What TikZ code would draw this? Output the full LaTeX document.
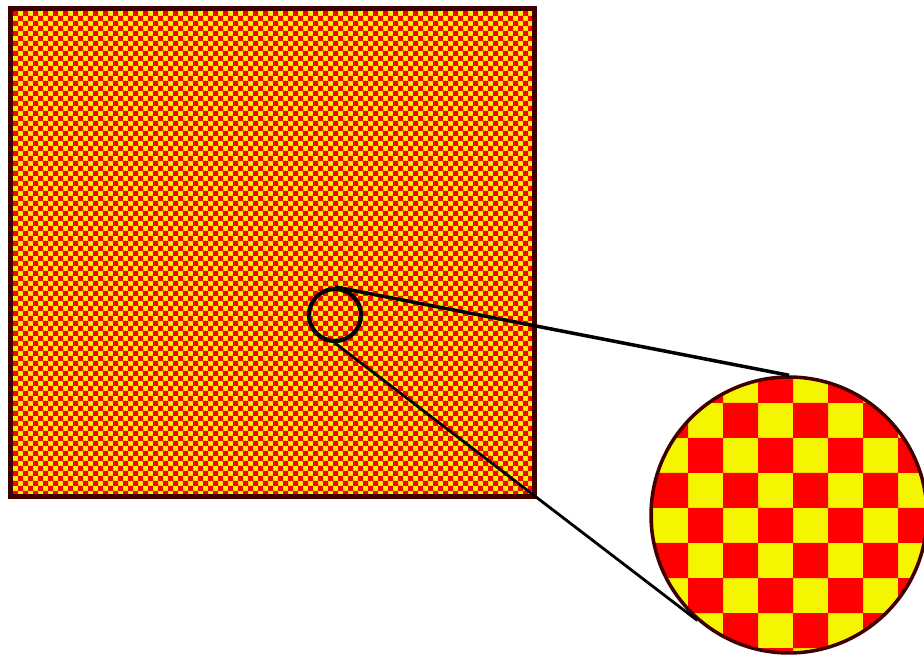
\documentclass[tikz,border=0pt]{standalone}
\usepackage{tikz}
\definecolor{boardred}{RGB}{255,0,0}
\definecolor{boardyellow}{RGB}{245,245,0}
\definecolor{rim}{RGB}{64,0,0}

\begin{document}
\begin{tikzpicture}[x=0.02cm, y=-0.02cm,
    rimline/.style={draw=rim, line width=2pt},
    zoomline/.style={draw=black, line width=2pt}]
    \useasboundingbox (0,0) rectangle (924,655);

    % Fine board
    \begin{scope}
        \clip (13,11) rectangle (532,495);
        \fill[boardyellow] (13,11) rectangle (532,495);
        \foreach \r in {0,...,96} {
            \fill[boardred] \foreach \c in {0,...,52} {
                ({13+10*\c+5*mod(\r,2)}, {11+5*\r}) rectangle ++(5,5)
            };
        }
    \end{scope}
    \draw[rimline, line width=2.8pt] (10.5,8.5) rectangle (534.5,496.5);

    % Magnified board
    \coordinate (zc) at (789,515);
    \begin{scope}
        \clip (zc) circle (2.76cm);
        \fill[boardyellow] (zc) circle (2.76cm);
        \foreach \r in {0,...,8} {
            \fill[boardred] \foreach \c in {0,...,4} {
                ({618+70*\c+35*mod(\r,2)}, {368+35*\r}) rectangle ++(35,35)
            };
        }
    \end{scope}
    \node[circle, rimline, minimum size=5.52cm, inner sep=0pt] (zoom) at (zc) {};

    % Lens
    \node[circle, zoomline, line width=2.4pt, minimum size=1.04cm, inner sep=0pt] (lens) at (335,315) {};

    % Zoom lines
    \draw[zoomline] (lens.north) -- (zoom.north);
    \draw[zoomline, line width=1.6pt] (lens.south) -- (zoom.-131);

\end{tikzpicture}
\end{document}
